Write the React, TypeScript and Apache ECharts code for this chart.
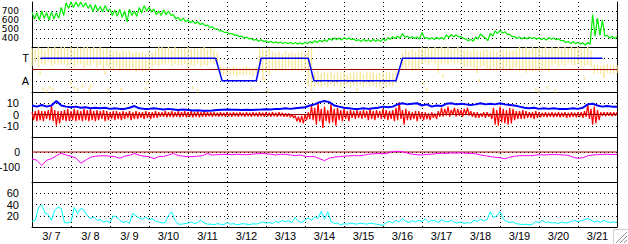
import React, { useEffect, useRef } from 'react';
import * as echarts from 'echarts';

// ---- data (hours since 3/7 00:00) ----
const dayLabels = ['3/ 7', '3/ 8', '3/ 9', '3/10', '3/11', '3/12', '3/13', '3/14', '3/15', '3/16', '3/17', '3/18', '3/19', '3/20', '3/21'];

// panel 1 (green band: upper / lower reading every 3 hours)
const greenStep = 3;
const greenHi = [
  690, 680, 700, 680, 690, 680, 740, 790, 800, 800,
  800, 790, 770, 770, 750, 760, 720, 710, 720, 700,
  720, 700, 740, 760, 740, 720, 700, 710, 700, 660,
  630, 620, 600, 590, 580, 565, 545, 525, 500, 480,
  465, 450, 435, 420, 410, 395, 385, 380, 370, 365,
  358, 355, 352, 350, 350, 348, 352, 360, 370, 375,
  380, 395, 400, 398, 405, 400, 390, 382, 385, 380,
  385, 382, 390, 405, 415, 420, 450, 420, 415, 410,
  460, 405, 402, 408, 405, 435, 440, 435, 420, 390,
  385, 410, 445, 400, 450, 480, 485, 470, 440, 415,
  410, 408, 412, 405, 402, 398, 405, 400, 392, 372,
  362, 358, 352, 345, 350, 660, 620, 600, 430, 420,
  415,
];
const greenLo = [
  610, 600, 620, 600, 610, 620, 650, 730, 740, 750,
  745, 730, 690, 700, 690, 700, 650, 640, 630, 580,
  650, 640, 680, 700, 690, 660, 650, 660, 650, 610,
  590, 580, 570, 560, 550, 535, 515, 500, 480, 460,
  445, 430, 415, 400, 390, 375, 365, 360, 350, 345,
  342, 338, 336, 334, 332, 330, 336, 342, 350, 358,
  362, 375, 382, 378, 385, 380, 370, 362, 365, 360,
  365, 362, 370, 385, 395, 400, 410, 400, 395, 390,
  400, 385, 382, 388, 385, 405, 415, 410, 395, 370,
  365, 390, 420, 370, 420, 450, 455, 440, 415, 395,
  390, 388, 392, 385, 382, 378, 385, 380, 370, 350,
  340, 335, 330, 322, 330, 420, 430, 420, 400, 395,
  395,
];

// panel 2 (yellow band, lo/hi every 2 hours)
const yellowStep = 2;
const yellowHi = [
  1.9, 1.8, 2, 1.9, 1.7, 2, 1.9, 2, 1.8, 2,
  2, 1.9, 2, 1.8, 2, 1.9, 2, 2, 1.9, 2,
  1.9, 2, 1.8, 1.9, 1.7, 1.6, 1.7, 1.5, 1.7, 1.6,
  1.7, 1.5, 1.6, 1.5, 1.6, 1.4, 1.6, 1.5, 1.8, 2,
  2, 1.9, 2, 1.8, 2, 1.9, 1.8, 1.9, 2, 1.8,
  1.9, 1.8, 1.9, 2, 1.8, 1.9, 1.7, 1.5, 0.3, 0.2,
  0.2, 0.1, 0.3, 0.2, 0.1, 0.2, 0.3, 0.2, 0.1, 0.3,
  1.9, 1.8, 1.7, 1.9, 1.6, 1.5, 1.6, 1.4, 1.6, 1.5,
  1.6, 1.4, 1.5, 1.6, 1.4, 1.8, 1.9, -0.2, -0.1, -0.3,
  -0.2, -0.3, -0.2, -0.4, -0.2, -0.3, -0.2, -0.4, -0.3, -0.2,
  -0.3, -0.2, -0.4, -0.2, -0.3, -0.2, -0.4, -0.3, -0.2, -0.3,
  -0.2, -0.3, -0.1, 0.2, 1.5, 1.8, 1.7, 1.8, 1.6, 1.8,
  2, 1.9, 2, 1.8, 2, 1.9, 2, 1.9, 2, 1.8,
  1.9, 2, 1.8, 1.7, 1.8, 1.6, 1.8, 1.7, 1.6, 1.8,
  1.8, 1.7, 1.8, 1.6, 1.8, 1.7, 1.8, 1.6, 1.7, 1.8,
  2, 1.9, 2, 1.8, 2, 1.9, 2, 1.9, 2, 1.8,
  2, 1.9, 2, 1.8, 2, 1.9, 2, 1.9, 2, 1.8,
  1.9, 2, 1.7, 0.5, 0.4, 0.3, 0.4, 0.5, 0.3, 0.4,
  0.4,
];
const yellowLo = [
  0.3, 0.6, 0.2, 0.5, 0.4, 0.7, 0.3, 0.5, 0.6, 0.4,
  0.5, 0.3, 0.6, 0.2, 0.4, 0.5, 0.1, 0.4, 0.3, 0.6,
  0.2, 0.4, -0.1, 0.3, 0, -0.1, 0.2, -0.1, 0.1, 0,
  -0.1, 0.1, -0.2, 0, -0.2, -0.1, 0, 0.2, 0.4, 0.3,
  0.5, 0.4, 0.6, 0.3, 0.5, 0.4, 0.3, 0.5, 0.2, 0.4,
  0.3, 0.5, 0.2, 0.4, 0.3, 0.6, 0.5, 0.6, -0.4, -0.5,
  -0.5, -0.4, -0.5, -0.6, -0.4, -0.5, -0.4, -0.5, -0.6, -0.4,
  -0.3, -0.9, -0.2, -0.5, 0, -0.1, 0.1, -0.1, 0, 0.2,
  -0.1, 0, 0.1, -0.1, 0, -1.5, -1.6, -1.5, -1.4, -1.6,
  -1.4, -1.6, -1.3, -1.5, -1.4, -1.6, -1.5, -1.3, -1.6, -1.4,
  -1.5, -1.4, -1.6, -1.3, -1.5, -1.4, -1.6, -1.5, -1.3, -1.6,
  -1.4, -1.5, -1.2, -0.5, 0.1, 0, 0.2, -0.1, 0, 0.1,
  0.5, 0.6, 0.4, 0.7, 0.5, -0.3, 0.5, 0.6, 0.4, 0.7,
  0.5, 0.6, 0.4, 0.2, 0.3, 0.2, 0.1, -0.3, 0.2, 0.3,
  0.1, 0, 0.2, -0.1, 0.1, 0, 0.2, 0, 0.1, 0.2,
  -0.2, 0, -0.3, -0.1, -0.2, 0, -0.2, -0.1, 0, -0.2,
  0.3, 0.5, 0.2, 0.4, 0.3, 0.6, 0.4, 0.3, 0.5, 0.2,
  0.3, 0.4, 0.2, -0.4, -0.3, -0.4, -0.5, -0.3, -0.4, -0.3,
  -0.3,
];
const yellowOutHours = [5, 7, 9, 11, 13, 24, 26, 28, 31, 35, 36, 45, 47, 55, 70, 71, 99, 102, 135, 143, 145, 172, 190, 200, 215, 241, 243, 253, 275, 310, 312, 317, 322, 340, 352];
const yellowOutValues = [-0.3, -1.7, -1.9, -1.6, -1.8, -1.2, -1.6, -1.8, -1.5, -1.8, -1.5, -0.3, -1.8, -1.8, -1.7, -1.2, -1.6, -1.9, -1.7, -0.9, -1.9, -1.8, -1.9, -1.8, -1.7, -1.2, -1.8, -0.6, -1.0, -1.8, -1.9, -1.6, -1.9, -0.8, -0.6];

// panel 2 (blue step T / A)
const stepHours = [5.5, 113, 117, 138, 141, 170, 173.5, 224, 228, 351];
const stepValues = [1, 1, -1, -1, 1, 1, -1, -1, 1, 1];

// panel 3 (red band: upper / lower reading every 2 hours)
const redStep = 2;
const redHi = [
  2, 3, 4, 3, 3, 4, 8, 4, 3, 3,
  4, 5, 3, 5, 4, 3, 5, 4, 5, 3,
  4, 3, 4, 3, 2, 3, 3, 2, 3, 2,
  3, 2, 3, 2, 2, 3, 2, 2, 3, 2,
  2, 3, 2, 3, 2, 3, 2, 3, 2, 3,
  2, 3, 2, 3, 2, 2, 2, 1.5, 2, 1.5,
  2, 1.5, 2, 1.5, 2, 1.5, 2, 1.5, 2, 1.5,
  2, 1.5, 2, 1.5, 2, 1.5, 2, 1.5, 1, 1,
  0, -1, -2, -1, 0, 2, 8, 6, 11, 5,
  7, 4, 9, 5, 6, 4, 5, 3, 4, 3,
  4, 3, 4, 3, 5, 3, 4, 3, 5, 4,
  3, 4, 6, 11, 4, 5, 3, 2, 3, 3,
  2, 2, 1, 2, 1, 3, 6, 5, 7, 4,
  6, 5, 4, 5, 6, 3, 2, 2, 1, 2,
  2, 1, 6, 4, 7, 5, 4, 6, 5, 3,
  3, 4, 3, 2, 2, 3, 2, 1.5, 2, 1.5,
  2, 1.5, 2, 1.5, 2, 1.5, 2, 1.5, 2, 2,
  3, 9, 5, 7, 4, 2, 2, 2, 2, 2,
  2,
];
const redLo = [
  -5, -6, -5, -6, -4, -5, -6, -10, -8, -5,
  -6, -6, -5, -6, -5, -6, -5, -6, -5, -6,
  -5, -4, -6, -5, -4, -5, -4, -5, -4, -3,
  -5, -4, -4, -3, -4, -3, -4, -3, -3, -2,
  -2, -2.5, -2, -2.5, -2, -2.5, -2, -2.5, -2, -2.5,
  -2, -2.5, -2, -2, -1.5, -2, -1.5, -2, -1.5, -2,
  -1.5, -2, -1.5, -2, -1.5, -2, -1.5, -2, -1.5, -2,
  -1.5, -2, -1.5, -2, -1.5, -2, -1.5, -2, -2, -2.5,
  -3, -6, -7, -8, -5, -4, -5, -9, -6, -12,
  -6, -8, -7, -10, -5, -6, -4, -6, -3, -4,
  -3, -4, -3, -5, -4, -5, -3, -4, -4, -5,
  -4, -6, -5, -4, -9, -5, -5, -4, -6, -4,
  -5, -4, -5, -3, -4, -2, -2, -1, -2, 0,
  -2, -1, -2, 0, -1, -2, -3, -3, -2, -3,
  -2, -4, -9, -10, -7, -8, -9, -8, -5, -4,
  -4, -4, -3, -3, -4, -3, -2.5, -2, -2.5, -2,
  -2.5, -2, -2.5, -2, -3, -2.5, -2, -2.5, -2, -3,
  -2, -4, -9, -8, -5, -1, -1.5, -1, -1.5, -1,
  -1,
];

// panel 3 (blue, every 3 hours)
const blueStep = 3;
const blueValues = [
  8, 7, 8.5, 7, 8, 12, 8, 7, 6.5, 7,
  6, 6.5, 5.5, 6, 5.5, 6, 5, 5.5, 5, 5,
  6, 7.5, 5.5, 5, 5, 5.5, 5, 4.5, 5, 4.5,
  4, 4.5, 4, 3.5, 3.8, 3.4, 3.4, 3.5, 4, 4.3,
  4.5, 4.3, 4.3, 4, 4.2, 4, 4.3, 4.4, 4.6, 4.5,
  5, 5, 5.5, 5, 5.5, 6, 6.5, 8, 9, 11,
  12, 11, 8, 7, 6, 5.5, 5, 5, 5.5, 5,
  5.5, 6, 7, 6.5, 7, 9, 10, 9, 9.5, 10,
  8, 9, 7, 8, 7.5, 9.5, 10, 9, 9.5, 9,
  8.5, 9, 10, 9, 9.5, 9, 10, 9, 8.5, 8,
  7, 6, 5.5, 6, 5, 5.5, 5, 5.5, 5, 5,
  5, 5.5, 5, 6, 9, 9.5, 8, 7, 7.5, 7,
  7,
];

// panel 4 (magenta, every 3 hours)
const magentaStep = 3;
const magentaValues = [
  -45, -55, -90, -55, -45, -25, -8, -20, -28, -40,
  -75, -55, -35, -28, -25, -25, -28, -31, -42, -28,
  -22, -10, -22, -28, -31, -45, -31, -30, -20, -10,
  -24, -28, -31, -31, -28, -24, -10, -20, -18, -16,
  -16, -18, -15, -17, -18, -15, -12, -10, -12, -15,
  -20, -15, -16, -20, -24, -20, -28, -31, -31, -45,
  -58, -40, -35, -31, -28, -25, -24, -25, -22, -15,
  -12, -10, -12, -8, 3, 5, 2, -8, -15, -18,
  -20, -16, -15, -10, -8, -10, -6, -8, -5, -8,
  -10, -12, -20, -25, -30, -35, -38, -45, -35, -28,
  -25, -24, -25, -22, -18, -20, -18, -16, -18, -20,
  -22, -35, -42, -38, -25, -20, -18, -16, -15, -17,
  -16,
];

// panel 5 (cyan, every 2 hours)
const cyanStep = 2;
const cyanValues = [
  10, 12, 35, 39, 25, 22, 12, 30, 35, 33,
  8, 7, 9, 35, 24, 33, 30, 20, 15, 18,
  12, 13, 9, 11, 8, 20, 18, 12, 8, 10,
  7, 24, 20, 16, 14, 18, 13, 15, 10, 9,
  7, 8, 21, 27, 12, 5, 5, 6, 7, 9,
  6, 8, 12, 7, 5, 5, 4, 6, 5, 4,
  8, 5, 6, 4, 5, 6, 5, 4, 6, 5,
  7, 9, 7, 8, 6, 10, 8, 12, 9, 11,
  8, 17, 10, 8, 12, 16, 12, 18, 15, 28,
  14, 27, 10, 6, 7, 4, 6, 5, 7, 6,
  5, 7, 6, 5, 7, 6, 5, 4, 3, 8,
  10, 7, 12, 9, 15, 10, 8, 11, 9, 12,
  10, 14, 9, 12, 11, 8, 13, 10, 9, 12,
  8, 7, 9, 6, 8, 7, 12, 10, 14, 11,
  13, 27, 17, 20, 27, 14, 10, 8, 9, 6,
  5, 4, 5, 4, 5, 10, 7, 12, 8, 9,
  7, 8, 6, 9, 7, 8, 10, 12, 9, 11,
  13, 15, 12, 9, 11, 8, 12, 9, 8, 9,
  8,
];

// y-axis ranges per panel
const yMins = [300, -2, -20, -200, 0];
const yMaxs = [800, 2, 20, 100, 80];
const yIntervals = [100, 1, 10, 100, 20];
const dirLabels: Record<string, string> = { '1': 'T', '-1': 'A' };

const FONT = "'Liberation Sans', Arial, sans-serif";
const GRID_TOPS = [2, 47, 92, 137, 182];
const LABEL_MARGINS = [13, 3, 13, 12, 13];
const LABEL_SIZES = [9, 11, 11, 10.5, 11];
const LABEL_FONTS = ["'DejaVu Sans', sans-serif", FONT, FONT, FONT, FONT];

// upper / lower readings placed alternately within each sampling step
function band(step: number, hi: number[], lo: number[]) {
  const out: number[][] = [];
  hi.forEach((h, i) => {
    out.push([i * step, h]);
    if (i < hi.length - 1) out.push([i * step + step / 2, lo[i]]);
  });
  return out;
}
function pairs(step: number, values: number[]) {
  return values.map((v, i) => [i * step, v]);
}

export default function App() {
  const ref = useRef<HTMLDivElement>(null);
  useEffect(() => {
    if (!ref.current) return;
    const chart = echarts.init(ref.current, undefined, { renderer: 'svg' });

    const grids = GRID_TOPS.map((top) => ({
      left: 32, right: 11, top, height: 45, show: false, outerBoundsMode: 'none',
    }));
    const xAxes: any[] = GRID_TOPS.map((_, i) => ({
      type: 'value', gridIndex: i, min: 0, max: 360, interval: 24,
      axisLine: { show: true, onZero: false, lineStyle: { color: '#000', width: 1 } },
      axisTick: { show: false }, axisLabel: { show: false },
      splitLine: { show: true, lineStyle: { color: '#000', type: [1, 3], width: 1 } },
    }));
    xAxes.push({
      type: 'value', gridIndex: 4, min: 0, max: 360, interval: 12, position: 'bottom',
      axisLine: { show: false, onZero: false }, axisTick: { show: false }, splitLine: { show: false },
      axisLabel: {
        show: true, margin: 3, fontSize: 11, color: '#000', fontFamily: FONT,
        formatter: (v: number) => (v % 24 === 12 ? dayLabels[(v - 12) / 24] ?? '' : ''),
      },
    });

    const yLeft = GRID_TOPS.map((_, i) => ({
      type: 'value', gridIndex: i, position: 'left', min: yMins[i], max: yMaxs[i], interval: yIntervals[i],
      axisLine: { show: true, onZero: false, lineStyle: { color: '#000', width: 1 } },
      axisTick: { show: false },
      axisLabel: {
        show: true, showMinLabel: false, showMaxLabel: false, fontSize: LABEL_SIZES[i],
        color: '#000', fontFamily: LABEL_FONTS[i], margin: LABEL_MARGINS[i],
        formatter: i === 1 ? (v: number) => dirLabels[String(v)] ?? '' : (v: number) => String(v),
      },
      splitLine: { show: true, showMinLine: false, showMaxLine: false, lineStyle: { color: '#000', type: [1, 3], width: 1 } },
    }));
    const yRight = GRID_TOPS.map((_, i) => ({
      type: 'value', gridIndex: i, min: yMins[i], max: yMaxs[i], interval: yIntervals[i], position: 'right',
      axisLine: { show: true, onZero: false, lineStyle: { color: '#000', width: 1 } },
      axisTick: { show: false }, axisLabel: { show: false }, splitLine: { show: false },
    }));

    const line = (xi: number, data: any[], color: string, width: number, z = 2) => ({
      type: 'line', xAxisIndex: xi, yAxisIndex: xi, data, symbol: 'none', showSymbol: false,
      color, lineStyle: { color, width }, z, silent: true,
    });
    const zero = [[0, 0], [360, 0]];

    const yellowData = yellowHi.map((hi, i) => [i * yellowStep, yellowLo[i], hi]);
    const YELLOW = '#f9e596';

    const series: any[] = [
      line(0, band(greenStep, greenHi, greenLo), '#00ee00', 1.2),
      {
        type: 'custom', xAxisIndex: 1, yAxisIndex: 1, data: yellowData, silent: true, z: 1,
        encode: { x: 0, y: [1, 2] },
        renderItem: (_p: any, api: any) => {
          const a = api.coord([api.value(0), api.value(1)]);
          const b = api.coord([api.value(0), api.value(2)]);
          return {
            type: 'line',
            shape: { x1: a[0], y1: a[1], x2: b[0], y2: b[1] },
            style: { stroke: YELLOW, lineWidth: 1.3 },
          };
        },
      },
      {
        type: 'scatter', xAxisIndex: 1, yAxisIndex: 1, silent: true, z: 1,
        data: yellowOutHours.map((h, i) => [h, yellowOutValues[i]]),
        symbol: 'rect', symbolSize: [2, 3], itemStyle: { color: YELLOW },
      },
      line(1, zero, '#a00000', 1, 3),
      line(1, stepHours.map((h, i) => [h, stepValues[i]]), '#0000ff', 1.5, 4),
      line(2, band(redStep, redHi, redLo), '#ff0000', 1.2, 2),
      line(2, pairs(blueStep, blueValues), '#0000ff', 2, 3),
      line(2, zero, '#a00000', 1, 4),
      line(3, zero, '#a00000', 1, 2),
      line(3, pairs(magentaStep, magentaValues), '#ff00ff', 1, 3),
      line(4, pairs(cyanStep, cyanValues), '#00ffff', 1, 2),
    ];

    chart.setOption({
      animation: false,
      backgroundColor: '#ffffff',
      grid: grids,
      xAxis: xAxes,
      yAxis: [...yLeft, ...yRight],
      series,
      graphic: [
        { type: 'line', shape: { x1: 613.5, y1: 229, x2: 613.5, y2: 244 }, style: { stroke: '#d0d0d0', lineWidth: 1 } },
        { type: 'line', shape: { x1: 613, y1: 229.5, x2: 628, y2: 229.5 }, style: { stroke: '#d0d0d0', lineWidth: 1 } },
        { type: 'line', shape: { x1: 616, y1: 243, x2: 627, y2: 232 }, style: { stroke: '#909090', lineWidth: 1 } },
        { type: 'line', shape: { x1: 620, y1: 243, x2: 627, y2: 236 }, style: { stroke: '#909090', lineWidth: 1 } },
        { type: 'line', shape: { x1: 624, y1: 243, x2: 627, y2: 240 }, style: { stroke: '#909090', lineWidth: 1 } },
      ],
    });
    return () => chart.dispose();
  }, []);

  return <div ref={ref} style={{ position: 'fixed', left: 0, top: 0, width: 628, height: 244, background: '#fff' }} />;
}
